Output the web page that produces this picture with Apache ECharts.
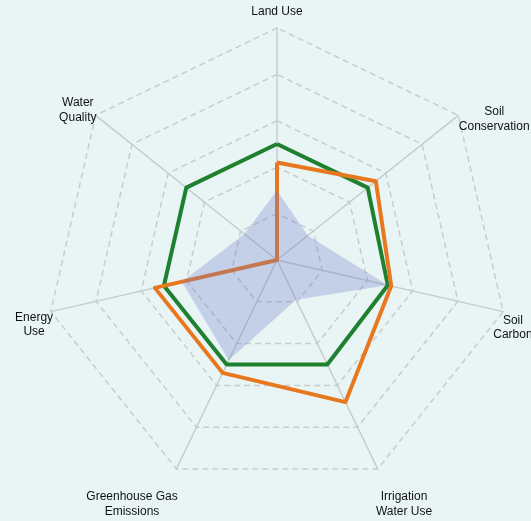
<!DOCTYPE html>
<html>
<head>
<meta charset="utf-8">
<script src="https://cdn.jsdelivr.net/npm/echarts@6/dist/echarts.min.js"></script>
<style>
  html, body { margin: 0; padding: 0; background: #e9f5f5; }
  #main { width: 531px; height: 521px; }
</style>
</head>
<body>
<div id="main"></div>
<script>
  // indicators listed clockwise starting at the top
  const categories = ['Land Use', 'Soil\nConservation', 'Soil\nCarbon', 'Irrigation\nWater Use',
    'Greenhouse Gas\nEmissions', 'Energy\nUse', 'Water\nQuality']
  const greenValues = [0.5, 0.5, 0.49, 0.5, 0.5, 0.5, 0.5]
  const orangeValues = [0.42, 0.545, 0.505, 0.68, 0.54, 0.54, 0]
  const blueValues = [0.30, 0.17, 0.49, 0.19, 0.48, 0.42, 0.18]
  const maxValue = 1

  // nudge of each axis name away from its default centred spot (dx, dy in px)
  const nameNudge = [[0, -6], [28, 10], [0, 14], [22, 26], [-40, 26], [-7, 11], [-10, 1]]

  // echarts lays indicators out counter-clockwise, so keep the first and flip the rest
  function cw(arr) {
    return [arr[0]].concat(arr.slice(1).reverse())
  }

  // rich styles: padding on the tokens shifts a centred block by half its size
  const rich = {}
  nameNudge.forEach(function (d, i) {
    const l = d[0] > 0 ? 2 * d[0] : 0
    const r = d[0] < 0 ? -2 * d[0] : 0
    const t = d[1] > 0 ? 2 * d[1] : 0
    const b = d[1] < 0 ? -2 * d[1] : 0
    const base = { align: 'center', color: '#111', fontSize: 12, fontFamily: 'Liberation Sans, Arial, sans-serif' }
    rich['f' + i] = Object.assign({}, base, { padding: [1.25 + t, r, 1.25, l] })
    rich['r' + i] = Object.assign({}, base, { padding: [1.25, r, 1.25, l] })
    rich['s' + i] = Object.assign({}, base, { padding: [1.25 + t, r, 1.25 + b, l] })
    rich['e' + i] = Object.assign({}, base, { padding: [1.25, r, 1.25 + b, l] })
  })

  const chart = echarts.init(document.getElementById('main'))
  const option = {
    backgroundColor: '#e9f5f5',
    radar: {
      center: [277, 260],
      radius: 232,
      startAngle: 90,
      splitNumber: 5,
      shape: 'polygon',
      nameGap: 10,
      indicator: cw(categories).map(function (n) { return { name: n, max: maxValue, min: 0 } }),
      axisName: {
        color: '#111',
        fontSize: 12,
        fontFamily: 'Liberation Sans, Arial, sans-serif',
        align: 'center',
        verticalAlign: 'middle',
        formatter: function (name) {
          const i = categories.indexOf(name)
          const lines = name.split('\n')
          return lines.map(function (s, k) {
            let key
            if (lines.length === 1) key = 's'
            else if (k === 0) key = 'f'
            else if (k === lines.length - 1) key = 'e'
            else key = 'r'
            return '{' + key + i + '|' + s + '}'
          }).join('\n')
        },
        rich: rich
      },
      axisLine: { lineStyle: { color: '#c5cccc', width: 1.5 } },
      splitLine: { lineStyle: { color: '#c8cccc', width: 1.5, type: [6, 4] } },
      splitArea: { show: false }
    },
    series: [
      {
        type: 'radar',
        symbol: 'none',
        silent: true,
        data: [
          { value: cw(greenValues), lineStyle: { color: '#1f8030', width: 4 } },
          { value: cw(orangeValues), lineStyle: { color: '#e8781f', width: 4 } },
          {
            value: cw(blueValues),
            lineStyle: { width: 0, opacity: 0 },
            areaStyle: { color: 'rgba(110,120,200,0.42)' }
          }
        ]
      }
    ]
  }
  chart.setOption(option)
</script>
</body>
</html>
